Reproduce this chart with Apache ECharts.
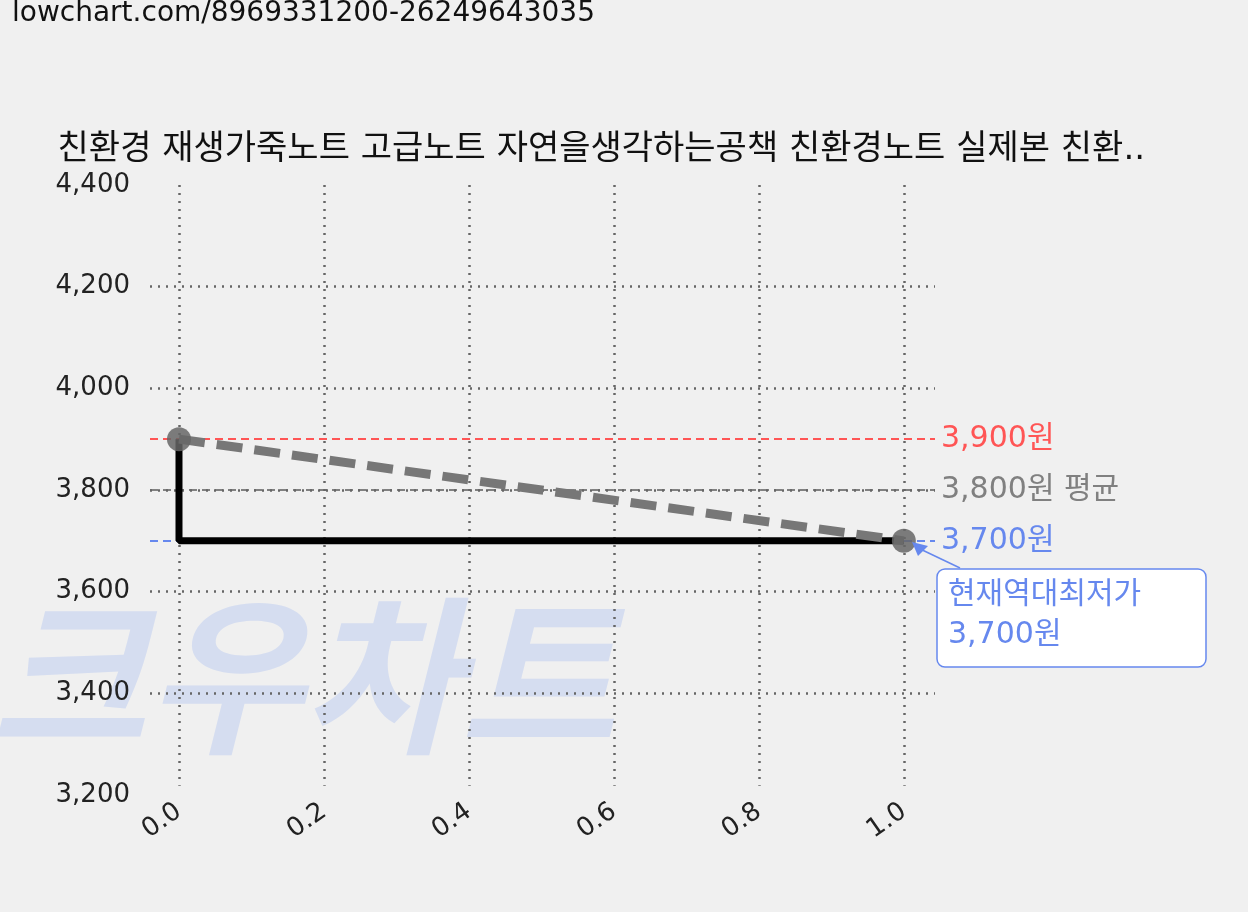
<!DOCTYPE html>
<html><head><meta charset="utf-8">
<script src="https://cdn.jsdelivr.net/npm/echarts@6/dist/echarts.min.js"></script>
<style>html,body{margin:0;padding:0;background:#f0f0f0}#c{width:1248px;height:912px}</style>
</head><body><div id="c"></div>
<script>
const xTicks=[0,0.2,0.4,0.6,0.8,1.0];
const yGrid=[3400,3600,3800,4000,4200];
const priceLine=[[0,3900],[0,3700],[1,3700]];
const trendLine=[[0,3900],[1,3700]];
const maxPrice=3900, avgPrice=3800, minPrice=3700;
const F='"DejaVu Sans","Noto Sans CJK KR",sans-serif';
const chart=echarts.init(document.getElementById('c'));
const refLine=(v,c,txt)=>({yAxis:v,lineStyle:{color:c,type:[8,5],width:2},label:{show:true,position:'end',formatter:txt,color:c,fontSize:30,fontFamily:F,distance:6}});
chart.setOption({
backgroundColor:'#f0f0f0',animation:false,
grid:{left:150,right:313,top:185,bottom:117},
xAxis:{type:'value',min:-0.04,max:1.043,splitLine:{show:false},axisLine:{show:false},axisTick:{show:false},
 axisLabel:{customValues:xTicks,formatter:v=>v.toFixed(1),rotate:35,fontSize:26,color:'#222',fontFamily:F,margin:14}},
yAxis:{type:'value',min:3200,max:4400,interval:200,splitLine:{show:false},axisLine:{show:false},axisTick:{show:false},
 axisLabel:{formatter:v=>v.toLocaleString('en-US'),fontSize:26,color:'#222',fontFamily:F,margin:20}},
graphic:[
 {type:'text',left:12,top:0,z:0,style:{text:'lowchart.com/8969331200-26249643035',fontSize:28,fill:'#111',fontFamily:F}},
 {type:'text',x:1145,y:133,style:{text:'친환경 재생가죽노트 고급노트 자연을생각하는공책 친환경노트 실제본 친환..',textAlign:'right',fontSize:34,fill:'#111',fontFamily:F}},
 {type:'text',x:-10,y:590,z:-10,silent:true,style:{text:'크우차트',fontSize:170,fontWeight:'bold',fontStyle:'italic',fill:'#d5ddf0',fontFamily:'"Noto Sans CJK KR"'}},
 {type:'line',z:100,shape:{x1:960,y1:568,x2:916,y2:547},style:{stroke:'#6688ee',lineWidth:1.5}},
 {type:'polygon',z:100,shape:{points:[[912,542],[928,546],[918,556]]},style:{fill:'#6688ee'}},
 {type:'rect',z:100,shape:{x:937,y:569,width:269,height:98,r:8},style:{fill:'#fff',stroke:'#6688ee',lineWidth:1.5}},
 {type:'text',z:101,x:948,y:575,style:{text:'현재역대최저가\n3,700원',fontSize:30,lineHeight:40,fill:'#6688ee',fontFamily:F}}
],
series:[
 {type:'line',data:[],silent:true,markLine:{symbol:'none',silent:true,label:{show:false},
  lineStyle:{color:'#666',type:[2,6],width:2.5},
  data:[...xTicks.map(v=>[{coord:[v,4400]},{coord:[v,3218]}]),...yGrid.map(v=>[{coord:[-0.04,v]},{coord:[1.043,v]}])]}},
 {type:'line',data:priceLine,symbol:'none',lineStyle:{color:'#000',width:7},z:5},
 {type:'line',data:trendLine,symbol:'circle',symbolSize:24,itemStyle:{color:'#666',opacity:0.85},lineStyle:{color:'#777',width:9,type:[26,12]},z:6,
  markLine:{symbol:'none',silent:true,z:3,data:[refLine(maxPrice,'#ff5555','3,900원'),refLine(avgPrice,'#808080','3,800원 평균'),refLine(minPrice,'#6688ee','3,700원')]}}
]});
</script></body></html>
